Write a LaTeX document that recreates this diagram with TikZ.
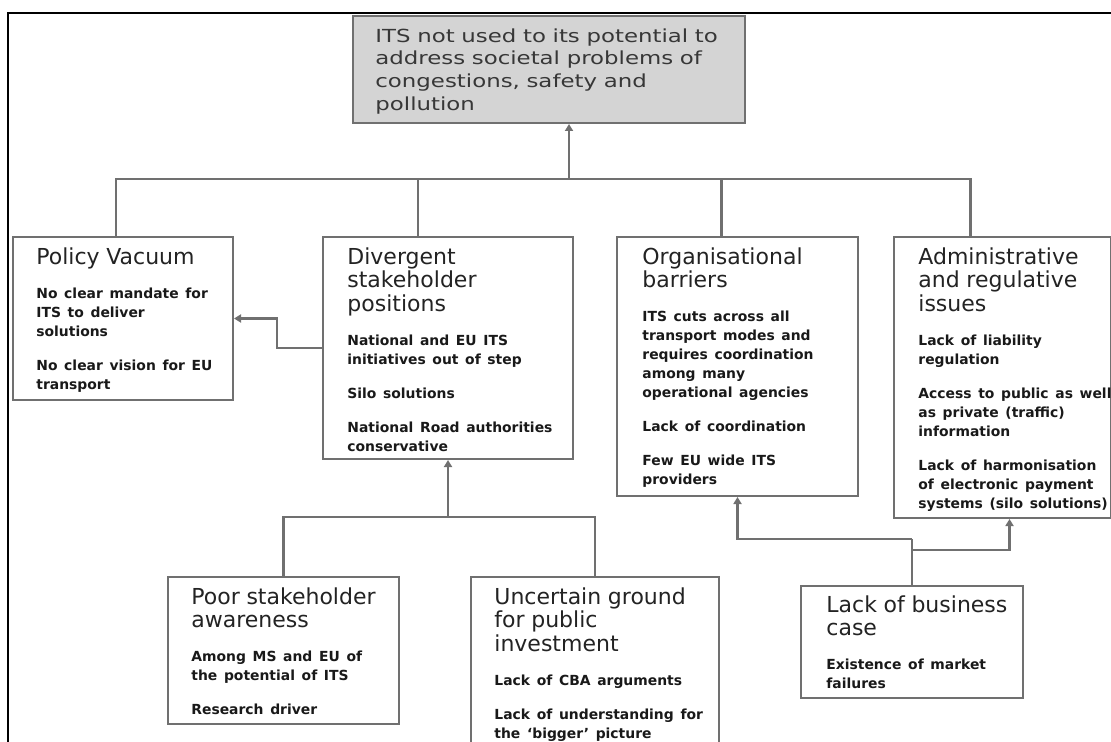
\documentclass[tikz,border=0pt]{standalone}
\usepackage{fontspec}
\setmainfont{DejaVu Sans}
\newfontfamily\stretchfont[FakeStretch=1.27]{DejaVu Sans}
\usepackage{xcolor}
\usepackage{tikz}
\usetikzlibrary{arrows.meta, positioning, calc}
\definecolor{linegray}{RGB}{112, 112, 112}
\definecolor{topfill}{RGB}{212, 212, 212}
\definecolor{toptext}{RGB}{55, 55, 55}
\definecolor{headtext}{RGB}{35, 35, 35}
\definecolor{pointtext}{RGB}{25, 25, 25}
\newcommand{\topline}{\stretchfont\fontsize{9}{11.35}\selectfont\color{toptext}}
\newcommand{\boxhead}{\fontsize{11}{11.75}\selectfont\color{headtext}}
\newcommand{\boxpoint}{\fontsize{6.95}{9.5}\selectfont\bfseries\color{pointtext}}

\begin{document}
\begin{tikzpicture}[
    x=0.5pt, y=-0.5pt,
    box/.style={draw=linegray, line width=1pt, fill=white, anchor=north west, inner sep=0pt},
    boxtext/.style={anchor=north west, inner sep=0pt, align=left, text width=#1},
    link/.style={draw=linegray, line width=1.2pt},
    arrow/.style={link, -{Triangle[width=4pt, length=3.5pt]}}
]
    \clip (0,0) rectangle (1111,742);

    % Frame
    \draw[black, line width=0.8pt] (8,742) -- (8,13) -- (1111,13);

    % Core problem
    \node[box, fill=topfill, minimum width=196pt, minimum height=53.5pt] (problem) at (352,15) {};
    \node[boxtext=190pt, below right=6.5pt and 11.5pt of problem.north west] (problem text) {\topline ITS not used to its potential to\\address societal problems of\\congestions, safety and\\pollution\par};

    % First level causes
    \node[box, minimum width=110pt, minimum height=81.5pt] (policy) at (12,236) {};
    \node[boxtext=105pt, below right=5.5pt and 12pt of policy.north west] (policy text) {\boxhead Policy Vacuum\\[7.5pt]\boxpoint No clear mandate for\\ITS to deliver\\solutions\\[7.5pt]No clear vision for EU\\transport\par};

    \node[box, minimum width=125pt, minimum height=111pt] (divergent) at (322,236) {};
    \node[boxtext=118pt, below right=5.5pt and 12.5pt of divergent.north west] (divergent text) {\boxhead Divergent\\stakeholder\\positions\\[7.5pt]\boxpoint National and EU ITS\\initiatives out of step\\[7.5pt]Silo solutions\\[7.5pt]National Road authorities\\conservative\par};

    \node[box, minimum width=120.5pt, minimum height=129.5pt] (organisational) at (616,236) {};
    \node[boxtext=115pt, below right=5.5pt and 13pt of organisational.north west] (organisational text) {\boxhead Organisational\\barriers\\[7.5pt]\boxpoint ITS cuts across all\\transport modes and\\requires coordination\\among many\\operational agencies\\[7.5pt]Lack of coordination\\[7.5pt]Few EU wide ITS\\providers\par};

    \node[box, minimum width=108.5pt, minimum height=140.5pt] (administrative) at (893,236) {};
    \node[boxtext=120pt, below right=5.5pt and 12.5pt of administrative.north west] (administrative text) {\boxhead Administrative\\and regulative\\issues\\[7.5pt]\boxpoint Lack of liability\\regulation\\[7.5pt]Access to public as well\\as private (traffic)\\information\\[7.5pt]Lack of harmonisation\\of electronic payment\\systems (silo solutions)\par};

    % Second level causes
    \node[box, minimum width=115.5pt, minimum height=73.5pt] (poor) at (167,576) {};
    \node[boxtext=110pt, below right=5.5pt and 12pt of poor.north west] (poor text) {\boxhead Poor stakeholder\\awareness\\[7.5pt]\boxpoint Among MS and EU of\\the potential of ITS\\[7.5pt]Research driver\par};

    \node[box, minimum width=124pt, minimum height=100pt] (uncertain) at (470,576) {};
    \node[boxtext=118pt, below right=5.5pt and 12pt of uncertain.north west] (uncertain text) {\boxhead Uncertain ground\\for public\\investment\\[7.5pt]\boxpoint Lack of CBA arguments\\[7.5pt]Lack of understanding for\\the `bigger' picture\par};

    \node[box, minimum width=111pt, minimum height=56pt] (business) at (800,585) {};
    \node[boxtext=106pt, below right=5pt and 13pt of business.north west] (business text) {\boxhead Lack of business\\case\\[7.5pt]\boxpoint Existence of market\\failures\par};

    % Links to the core problem
    \coordinate (core hub) at (569,179);
    \draw[arrow] (core hub) -- (core hub |- problem.south);
    \draw[link] ([xshift=-3.5pt]policy.north) |- (core hub);
    \draw[link] ([xshift=-15pt]divergent.north) |- (core hub);
    \draw[link] ([xshift=-8pt]organisational.north) |- (core hub);
    \draw[link] ([xshift=-16pt]administrative.north) |- (core hub);

    \draw[arrow] (divergent.west) -- ++(-45,0) |- (policy.east);

    % Links from second level
    \coordinate (stake hub) at (divergent.south |- 0,517);
    \draw[arrow] (stake hub) -- (divergent.south);
    \draw[link] (poor.north) |- (stake hub);
    \draw[link] (uncertain.north) |- (stake hub);

    \coordinate (org fork) at (business.north |- 0,539);
    \coordinate (adm fork) at (business.north |- 0,550);
    \draw[link] (business.north) -- (org fork);
    \draw[arrow] (org fork) -| (organisational.south);
    \draw[arrow] (adm fork) -| ([xshift=3.5pt]administrative.south);

\end{tikzpicture}
\end{document}
